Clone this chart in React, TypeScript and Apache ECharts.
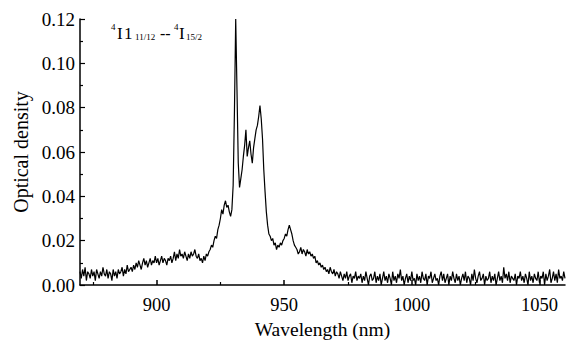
import React, { useEffect, useRef } from "react";
import * as echarts from "echarts";

// Wavelength sampling (nm)
const wlStart = 870;
const wlStep = 0.5;

// Optical density in units of 0.001 (mOD), sampled every 0.5 nm from 870 nm to 1060 nm
const odMilli: number[] = [
  // 870-880
  6, 3, 7, 4, 8, 2, 6, 5, 3, 7, 4, 6, 2, 7, 5, 3, 6, 4, 8, 5,
  // 880-890
  4, 7, 3, 6, 5, 2, 7, 4, 6, 3, 7, 5, 6, 8, 4, 7, 5, 9, 6, 7,
  // 890-900
  8, 6, 9, 7, 10, 8, 11, 9, 7, 10, 12, 9, 11, 8, 10, 12, 9, 11, 10, 13,
  // 900-910
  10, 12, 9, 11, 13, 10, 12, 11, 9, 12, 11, 13, 10, 12, 15, 11, 14, 12, 16, 13,
  // 910-920
  14, 12, 15, 13, 11, 14, 12, 15, 13, 14, 16, 13, 12, 14, 11, 12, 10, 13, 11, 14,
  // 920-930
  13, 15, 16, 18, 17, 20, 22, 21, 25, 27, 30, 34, 32, 36, 38, 35, 36, 33, 31, 34,
  // 930-940
  45, 78, 120, 88, 55, 44, 48, 52, 58, 63, 70, 58, 62, 65, 59, 55, 62, 66, 70, 72,
  // 940-950
  76, 81, 75, 66, 52, 42, 33, 27, 23, 22, 20, 21, 18, 19, 16, 18, 17, 19, 18, 20,
  // 950-960
  21, 23, 22, 25, 27, 25, 23, 20, 18, 17, 16, 14, 15, 17, 14, 16, 15, 13, 16, 14,
  // 960-970
  15, 13, 14, 12, 13, 10, 11, 9, 10, 8, 9, 7, 8, 6, 7, 5, 8, 6, 5, 7,
  // 970-980
  4, 6, 5, 3, 6, 4, 2, 5, 3, 6, 2, 4, 5, 1, 4, 3, 6, 2, 4, 3,
  // 980-990
  5, 1, 4, 2, 6, 3, 0, 4, 5, 2, 3, 6, 1, 4, 2, 5, 0, 3, 6, 2,
  // 990-1000
  4, 1, 5, 3, 0, 6, 2, 4, 1, 5, 3, 7, 2, 4, 0, 3, 5, 1, 4, 2,
  // 1000-1010
  6, 2, 3, 0, 5, 2, 4, 1, 6, 3, 2, 5, 0, 4, 3, 6, 1, 3, 5, 2,
  // 1010-1020
  3, 0, 4, 6, 2, 5, 1, 3, 5, 0, 4, 2, 6, 3, 1, 5, 2, 4, 0, 3,
  // 1020-1030
  5, 2, 6, 1, 4, 3, 0, 5, 2, 7, 3, 1, 4, 6, 2, 3, 5, 0, 4, 2,
  // 1030-1040
  3, 6, 1, 4, 2, 5, 0, 3, 6, 2, 4, 1, 8, 3, 5, 2, 6, 1, 4, 3,
  // 1040-1050
  2, 5, 0, 4, 3, 6, 2, 4, 1, 5, 3, 0, 6, 2, 4, 1, 5, 3, 2, 6,
  // 1050-1060
  1, 4, 3, 6, 0, 5, 2, 4, 7, 1, 3, 6, 2, 5, 1, 7, 3, 4, 2, 6,
  // 1060
  3,
];

const xMajorTicks = [900, 950, 1000, 1050];
const xMinorTicks = [875, 925, 975, 1025];
const xRange = [870, 1060];
const yRange = [0, 0.12];

const xTitle = "Wavelength (nm)";
const yTitle = "Optical density";

const FONT = "Liberation Serif";

export default function App() {
  const ref = useRef<HTMLDivElement>(null);

  useEffect(() => {
    document.body.style.margin = "0";
    if (!ref.current) return;
    const chart = echarts.init(ref.current, undefined, { renderer: "svg" });
    const data = odMilli.map((v, i) => [wlStart + i * wlStep, v / 1000]);

    const txt = (text: string, x: number, y: number, size: number) => ({
      type: "text",
      x,
      y,
      style: { text, fontFamily: FONT, fontSize: size, fill: "#000", verticalAlign: "top" },
    });

    chart.setOption({
      animation: false,
      backgroundColor: "#fff",
      textStyle: { fontFamily: FONT },
      grid: { left: 80, right: 13, top: 19, bottom: 57, outerBoundsMode: "none" },
      xAxis: [
        {
          type: "value",
          min: xRange[0],
          max: xRange[1],
          name: xTitle,
          nameLocation: "middle",
          nameGap: 34,
          nameTextStyle: { fontFamily: FONT, fontSize: 19.5, color: "#000" },
          axisLine: { lineStyle: { color: "#000", width: 1.5 } },
          axisTick: { inside: true, length: 5, customValues: xMajorTicks, lineStyle: { color: "#000", width: 1.5 } },
          axisLabel: {
            customValues: xMajorTicks,
            fontFamily: FONT,
            fontSize: 18.5,
            color: "#000",
            margin: 10,
            formatter: (v: number) => String(v),
          },
          splitLine: { show: false },
        },
        {
          type: "value",
          position: "bottom",
          min: xRange[0],
          max: xRange[1],
          axisLine: { show: false },
          axisTick: { inside: true, length: 3, customValues: xMinorTicks, lineStyle: { color: "#000", width: 1.2 } },
          axisLabel: { show: false },
          splitLine: { show: false },
        },
      ],
      yAxis: {
        type: "value",
        min: yRange[0],
        max: yRange[1],
        interval: 0.02,
        name: yTitle,
        nameLocation: "middle",
        nameGap: 48,
        nameTextStyle: { fontFamily: FONT, fontSize: 20, color: "#000" },
        axisLine: { show: true, lineStyle: { color: "#000", width: 1.5 } },
        axisTick: { show: true, inside: true, length: 5, lineStyle: { color: "#000", width: 1.2 } },
        minorTick: { show: true, splitNumber: 2, length: 3, lineStyle: { color: "#000", width: 1.2 } },
        axisLabel: {
          fontFamily: FONT,
          fontSize: 19,
          color: "#000",
          margin: 5,
          formatter: (v: number) => v.toFixed(2),
        },
        splitLine: { show: false },
      },
      series: [
        {
          type: "line",
          data,
          showSymbol: false,
          symbol: "none",
          clip: false,
          lineStyle: { color: "#000", width: 1.2 },
        },
      ],
      graphic: [
        txt("4", 111, 22, 9),
        txt("I", 117, 25, 17),
        txt("1", 124, 25, 17),
        txt("11/12", 135, 32, 9),
        txt("--", 160, 25, 16),
        txt("4", 174, 22, 9),
        txt("I", 179, 25, 17),
        txt("15/2", 186, 32, 9),
      ],
    });

    return () => chart.dispose();
  }, []);

  return <div ref={ref} style={{ width: 578, height: 342 }} />;
}
